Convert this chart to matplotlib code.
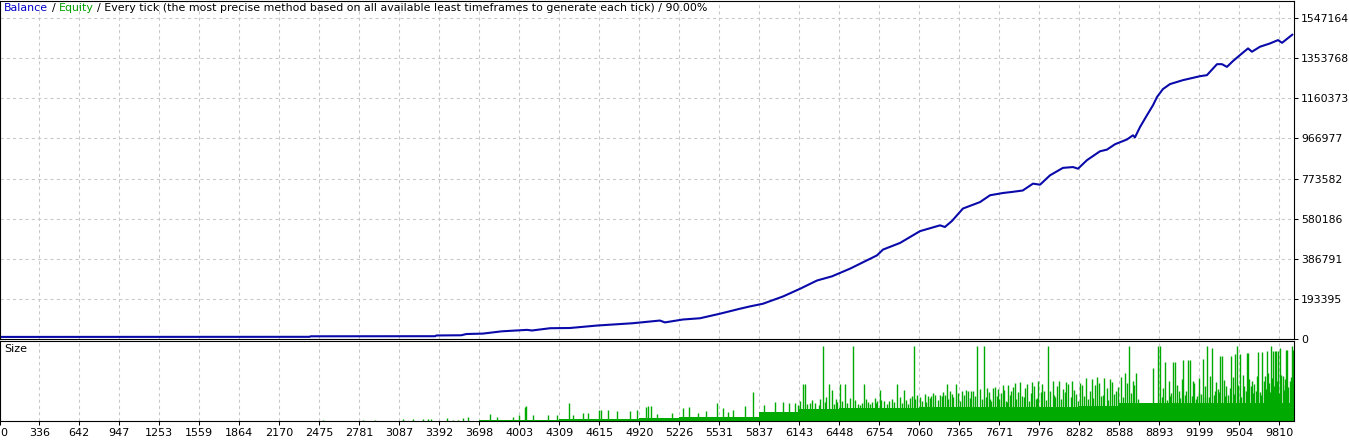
# MT4 strategy tester report: balance curve + trade size panel
import numpy as np
import matplotlib.pyplot as plt

plt.rcParams['font.family'] = 'DejaVu Sans'
plt.rcParams['font.size'] = 8

# -------------------- Data --------------------
x_tick_labels = [0, 336, 642, 947, 1253, 1559, 1864, 2170, 2475, 2781, 3087, 3392,
                 3698, 4003, 4309, 4615, 4920, 5226, 5531, 5837, 6143, 6448, 6754,
                 7060, 7365, 7671, 7976, 8282, 8588, 8893, 9199, 9504, 9810]
y_tick_values = [0, 193395, 386791, 580186, 773582, 966977, 1160373, 1353768, 1547164]

first_trade = 36
last_trade = 9922
y_top = 1629500

# balance (trade number, balance)
balance_trade = [36, 2400, 2410, 3360, 3370, 3560, 3600, 3725, 3870, 4062, 4100, 4240,
                 4390, 4600, 4870, 5078, 5116, 5254, 5384, 5537, 5690, 5765, 5865,
                 6018, 6148, 6278, 6392, 6530, 6736, 6782, 6912, 7065, 7218, 7255,
                 7309, 7393, 7523, 7600, 7700, 7768, 7850, 7928, 7982, 8058, 8157,
                 8234, 8272, 8340, 8440, 8493, 8555, 8646, 8692, 8707, 8746, 8799,
                 8845, 8876, 8921, 8975, 9074, 9204, 9257, 9334, 9372, 9410, 9456,
                 9510, 9571, 9601, 9662, 9739, 9800, 9831, 9915]
balance_value = [10000, 10500, 13000, 13500, 17000, 18000, 24000, 26000, 37000, 44000,
                 41000, 52000, 53000, 65000, 76000, 89000, 80000, 94000, 100000,
                 122000, 146000, 157000, 170000, 205000, 242000, 282000, 302000,
                 339000, 403000, 431000, 463000, 520000, 548000, 540000, 569000,
                 629000, 660000, 693000, 704000, 709000, 716000, 749000, 744000,
                 789000, 825000, 829000, 821000, 862000, 905000, 913000, 939000,
                 962000, 982000, 972000, 1022000, 1079000, 1127000, 1167000, 1205000,
                 1229000, 1248000, 1267000, 1272000, 1325000, 1325000, 1312000,
                 1340000, 1369000, 1401000, 1385000, 1409000, 1425000, 1441000,
                 1428000, 1470000]

# typical (floor) size inside each grid interval
base_size = [0, 0, 0, 0, 0, 0, 0, 0, 0, 0, 0, 0, 0.1, 0.1, 0.15, 0.2, 0.3, 0.35,
             0.4, 0.85, 1.2, 1.3, 1.3, 1.35, 1.4, 1.4, 1.4, 1.45, 1.75, 1.8, 1.8,
             1.8, 1.8]

# individual trades standing out above the floor
size_trade = [2504, 2810, 2902, 3115, 3191, 3268, 3306, 3329, 3451, 3497, 3535, 3573,
              3612, 3780, 3833, 3955, 4001, 4047, 4055, 4108, 4223, 4291, 4383, 4414,
              4490, 4528, 4612, 4628, 4681, 4750, 4849, 4903, 4971, 4987, 5010, 5055,
              5170, 5254, 5300, 5369, 5430, 5514, 5560, 5598, 5636, 5728, 5789, 5873,
              5957, 6018, 6064, 6110, 6171, 6186, 6224, 6263, 6324, 6370, 6392, 6431,
              6454, 6492, 6553, 6590, 6620, 6637, 6670, 6698, 6740, 6759, 6790, 6830,
              6889, 6943, 6988, 7019, 7065, 7126, 7150, 7179, 7218, 7256, 7271, 7309,
              7340, 7386, 7432, 7470, 7500, 7554, 7580, 7600, 7620, 7650, 7660, 7700,
              7720, 7740, 7760, 7790, 7830, 7860, 7880, 7920, 7950, 7970, 8010, 8043,
              8080, 8100, 8130, 8160, 8180, 8230, 8260, 8290, 8330, 8350, 8380, 8400,
              8420, 8450, 8470, 8520, 8560, 8600, 8630, 8662, 8690, 8715, 8845, 8883,
              8898, 8937, 8975, 8998, 9013, 9040, 9074, 9090, 9112, 9127, 9150, 9180,
              9200, 9227, 9257, 9270, 9296, 9319, 9340, 9357, 9372, 9403, 9420, 9441,
              9472, 9487, 9510, 9540, 9563, 9571, 9590, 9601, 9630, 9647, 9660, 9678,
              9700, 9716, 9730, 9746, 9762, 9775, 9785, 9800, 9815, 9838, 9850, 9861,
              9869, 9892, 9907, 9915]
size_lots = [0.1, 0.1, 0.1, 0.2, 0.2, 0.2, 0.2, 0.2, 0.3, 0.1, 0.1, 0.3,
             0.4, 0.7, 0.4, 0.4, 0.6, 1.4, 1.5, 0.6, 0.6, 0.6, 1.8, 0.6,
             0.8, 0.8, 1.1, 1.1, 1.1, 1.0, 1.0, 1.1, 1.4, 1.5, 1.5, 0.7,
             0.8, 1.3, 1.4, 0.8, 1.0, 1.8, 1.3, 0.9, 1.1, 1.5, 2.9, 1.6,
             1.9, 1.9, 1.8, 1.8, 3.7, 3.7, 1.8, 1.8, 7.5, 3.7, 3.1, 1.9,
             3.7, 3.7, 7.5, 1.7, 1.8, 3.7, 1.9, 1.9, 2.0, 3.1, 2.0, 2.0,
             3.7, 3.1, 2.3, 7.5, 2.4, 2.5, 2.5, 2.6, 2.6, 2.6, 3.7, 2.7,
             3.7, 3.0, 3.0, 3.0, 7.5, 7.5, 3.3, 2.2, 3.3, 2.5, 3.2, 3.6,
             2.0, 3.6, 3.0, 3.8, 3.9, 2.4, 3.7, 3.9, 2.2, 4.0, 3.0, 7.5,
             4.0, 2.4, 4.0, 3.2, 3.9, 4.0, 2.7, 3.8, 4.3, 2.2, 4.2, 3.6,
             4.4, 2.5, 4.3, 4.2, 3.0, 4.4, 4.8, 7.5, 4.0, 4.8, 5.3, 7.5,
             7.5, 5.9, 2.5, 5.9, 5.9, 3.0, 6.1, 2.6, 6.1, 6.1, 4.0, 2.5,
             2.8, 6.2, 7.5, 2.4, 7.3, 3.0, 3.2, 6.5, 6.5, 3.5, 2.6, 6.5,
             6.7, 7.5, 6.7, 3.5, 6.8, 6.8, 3.5, 4.0, 3.0, 6.9, 2.9, 6.9,
             4.5, 7.0, 3.8, 7.5, 7.0, 7.0, 7.0, 7.0, 7.3, 4.5, 3.6, 7.1,
             7.1, 4.0, 7.5, 7.1]

# the dense band of medium sized trades
band_trade = [6130, 6150, 6200, 6240, 6290, 6300, 6340, 6350, 6410, 6420, 6470, 6510,
              6530, 6570, 6610, 6650, 6680, 6720, 6730, 6770, 6810, 6850, 6870, 6910,
              6930, 6960, 6975, 7000, 7030, 7045, 7080, 7100, 7110, 7140, 7165, 7200,
              7230, 7240, 7280, 7295, 7320, 7355, 7370, 7400, 7415, 7445, 7455, 7485,
              7520, 7535, 7570, 7590, 7610, 7635, 7670, 7685, 7710, 7730, 7750, 7775,
              7800, 7815, 7845, 7870, 7895, 7910, 7935, 7960, 7990, 8000, 8025, 8060,
              8090, 8115, 8145, 8170, 8195, 8215, 8245, 8275, 8305, 8320, 8365, 8390,
              8435, 8460, 8490, 8505, 8535, 8550, 8580, 8615, 8645, 8675, 8700, 8730,
              8910, 8925, 8950, 8965, 8985, 9025, 9055, 9065, 9100, 9140, 9160, 9170,
              9195, 9210, 9240, 9245, 9280, 9310, 9330, 9350, 9385, 9395, 9430, 9455,
              9465, 9495, 9520, 9530, 9555, 9580, 9610, 9620, 9640, 9670, 9690, 9710,
              9725, 9740, 9755, 9770, 9795, 9808, 9825, 9845, 9855, 9880, 9898, 9910]
band_lots = [1.6, 2.0, 1.7, 2.1, 1.6, 2.2, 1.9, 2.4, 1.7, 2.2, 2.0, 1.8,
             2.3, 2.1, 1.6, 2.2, 1.7, 2.3, 1.8, 2.1, 1.7, 2.2, 1.9, 2.4,
             1.8, 2.1, 1.7, 2.5, 2.2, 2.6, 2.0, 2.7, 1.9, 2.3, 2.8, 2.1,
             2.5, 2.9, 2.2, 3.0, 2.4, 2.8, 2.0, 2.6, 3.1, 2.3, 3.0, 2.5,
             3.2, 2.2, 2.4, 2.9, 2.0, 3.4, 2.2, 2.8, 3.1, 1.9, 2.6, 3.4,
             2.2, 2.9, 2.5, 3.3, 2.0, 2.8, 3.5, 2.3, 2.9, 3.7, 2.1, 3.0,
             2.6, 3.5, 2.2, 2.9, 3.7, 2.4, 3.1, 2.0, 3.6, 2.5, 3.0, 2.3,
             3.8, 2.6, 3.3, 2.1, 3.9, 2.7, 3.4, 2.4, 3.8, 2.8, 3.6, 2.2,
             2.4, 3.3, 2.1, 4.0, 2.8, 3.6, 2.3, 4.2, 3.0, 2.5, 3.8, 2.2,
             4.3, 2.7, 3.5, 2.4, 4.5, 2.6, 3.9, 2.9, 4.1, 2.5, 3.3, 4.4,
             2.7, 3.6, 2.4, 4.6, 3.0, 4.2, 2.8, 3.7, 4.5, 2.6, 4.0, 3.2,
             4.8, 2.9, 4.3, 3.5, 4.0, 2.8, 4.6, 3.1, 4.2, 3.4, 4.4, 3.0]
# ---------------------------------------------

blue = '#0A0AAA'
green = '#00AA00'
grid_kw = dict(color='#c8c8c8', linestyle=(0, (3, 3)), linewidth=0.75)

fig = plt.figure(figsize=(13.49, 4.41), dpi=100)
ax = fig.add_axes([0.0, 0.2313, 0.9592, 0.7664])
ax2 = fig.add_axes([0.0, 0.0454, 0.9592, 0.1814])

x_ticks = [first_trade] + x_tick_labels[1:]

# ---------------- balance panel ----------------
ax.plot(balance_trade, balance_value, color=blue, linewidth=1.5, solid_capstyle='butt')
ax.set_xlim(first_trade, last_trade)
ax.set_ylim(0, y_top)
ax.set_xticks(x_ticks)
ax.set_yticks(y_tick_values)
ax.set_yticklabels([str(v) for v in y_tick_values])
ax.yaxis.tick_right()
ax.tick_params(axis='x', length=0, labelbottom=False)
ax.tick_params(axis='y', length=3, width=0.75, pad=2, direction='out', labelsize=7.8)
ax.grid(True, **grid_kw)
ax.set_axisbelow(True)

# ---------------- size panel ----------------
edges = x_ticks + [last_trade]
ax2.fill_between(edges, base_size + [base_size[-1]], step='post', color=green, linewidth=0)
ax2.vlines(band_trade, 0, band_lots, color=green, linewidth=1.0)
ax2.vlines(size_trade, 0, size_lots, color=green, linewidth=1.0)
ax2.set_xlim(first_trade, last_trade)
ax2.set_ylim(0, 8.0)
ax2.set_yticks([])
ax2.set_xticks(x_ticks)
ax2.set_xticklabels([str(v) for v in x_tick_labels])
ax2.get_xticklabels()[0].set_ha('left')
ax2.tick_params(axis='x', length=3, width=0.75, pad=2)
ax2.xaxis.grid(True, **grid_kw)
ax2.set_axisbelow(True)

for a in (ax, ax2):
    for s in a.spines.values():
        s.set_linewidth(0.8)
        s.set_color('black')

# ---------------- labels ----------------
title_parts = [('Balance', '#0000C8'), ('/', 'black'), ('Equity', '#00A000'),
               ('/ Every tick (the most precise method based on all available least '
                'timeframes to generate each tick) / 90.00%', 'black')]
t = fig.text(4 / 1349, 1 - 3 / 441, title_parts[0][0], color=title_parts[0][1],
             va='top', ha='left', fontsize=7.9)
for txt, col in title_parts[1:]:
    t = ax.annotate(txt, xy=(1, 0), xycoords=t, xytext=(3.5, 0),
                    textcoords='offset pixels', color=col, va='bottom', ha='left',
                    annotation_clip=False, fontsize=7.9)

fig.text(4 / 1349, 1 - 344 / 441, 'Size', va='top', ha='left')

fig.savefig('out.png', dpi=100)
